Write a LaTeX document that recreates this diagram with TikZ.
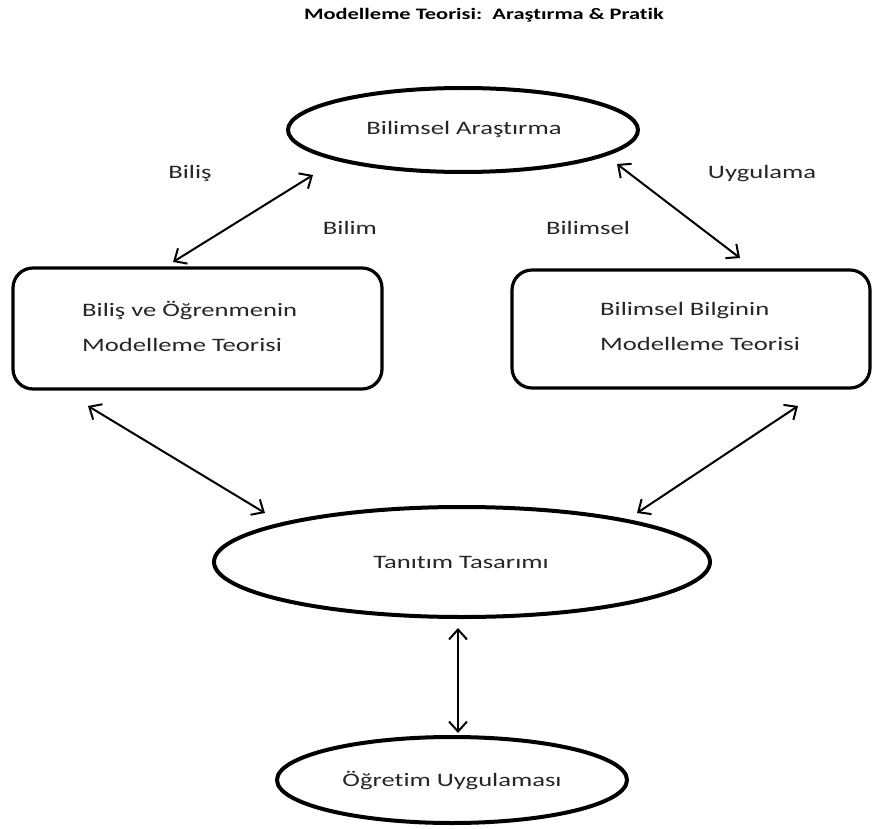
\documentclass[tikz,border=0pt]{standalone}
\usepackage{fontspec}
\setmainfont{Carlito}[FakeStretch=1.4,Ligatures=NoCommon]
\usetikzlibrary{shapes.geometric,arrows.meta}
\begin{document}
\begin{tikzpicture}[x=1pt,y=-1pt,
  ell/.style={draw,ellipse,line width=4pt,inner sep=0pt},
  boxx/.style={draw,rounded corners=20pt,line width=3.2pt,inner sep=0pt},
  txt/.style={font=\fontsize{19}{35}\selectfont,text=black!85,inner sep=0pt},
  lbl/.style={font=\fontsize{19}{23}\selectfont,text=black!85,inner sep=0pt},
  dbl/.style={line width=2pt,{Straight Barb[length=10pt,width=18pt,line width=2pt]}-{Straight Barb[length=10pt,width=18pt,line width=2pt]}}]
\useasboundingbox[fill=white] (0,0) rectangle (873,829);
% title
\node[font=\bfseries\fontsize{16}{19}\selectfont,inner sep=0pt] (title) at (484,15) {Modelleme Teorisi:\ \ Araştırma \& Pratik};
% ellipses
\node[ell,minimum width=350pt,minimum height=84pt] (e1) at (463,130) {};
\node[txt] (t1) at (464,130) {Bilimsel Araştırma};
\node[ell,minimum width=496pt,minimum height=110pt] (e2) at (462,562) {};
\node[txt] (t2) at (461,562) {Tanıtım Tasarımı};
\node[ell,minimum width=350pt,minimum height=86pt] (e3) at (452,780) {};
\node[txt] (t3) at (452,781) {Öğretim Uygulaması};
% boxes
\node[boxx,minimum width=369pt,minimum height=121pt] (bl) at (197.5,328.5) {};
\node[txt,align=left,anchor=west] (tl) at (82,326) {Biliş ve Öğrenmenin\\Modelleme Teorisi};
\node[boxx,minimum width=358pt,minimum height=118pt] (br) at (691,329) {};
\node[txt,align=left,anchor=west] (tr) at (600,326) {Bilimsel Bilginin\\Modelleme Teorisi};
% labels
\node[lbl] (lb1) at (190,174) {Biliş};
\node[lbl] (lb2) at (350,228) {Bilim};
\node[lbl] (lb3) at (588,228) {Bilimsel};
\node[lbl] (lb4) at (762,174) {Uygulama};
% arrow end points
\coordinate (a1) at (173,262); \coordinate (a2) at (313,175);
\coordinate (b1) at (617,164); \coordinate (b2) at (740,258);
\coordinate (c1) at (88,406);  \coordinate (c2) at (265,513);
\coordinate (d1) at (798,406); \coordinate (d2) at (637,513);
\coordinate (f1) at (458,628); \coordinate (f2) at (458,733);
\draw[dbl] (a1) -- (a2);
\draw[dbl] (b1) -- (b2);
\draw[dbl] (c1) -- (c2);
\draw[dbl] (d1) -- (d2);
\draw[dbl] (f1) -- (f2);
\end{tikzpicture}
\end{document}
